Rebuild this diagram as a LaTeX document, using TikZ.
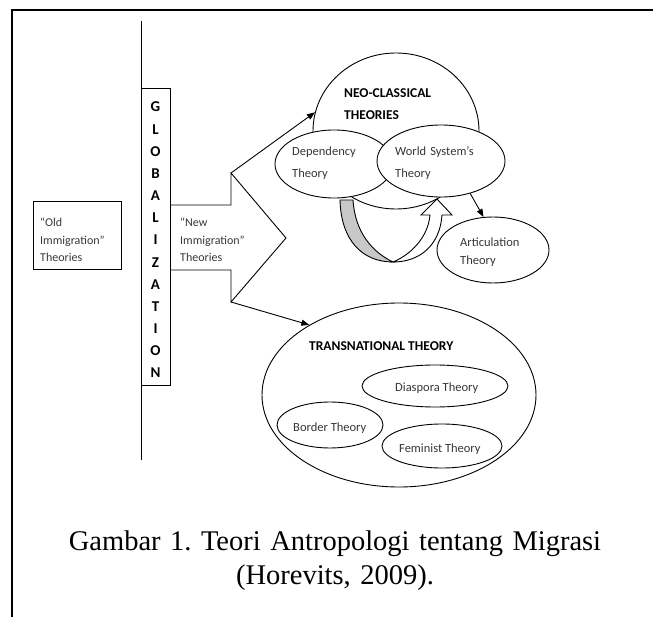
\documentclass[tikz,border=0pt]{standalone}
\usepackage{fontspec}
\setmainfont{Liberation Serif}
\setsansfont{Carlito}
\usetikzlibrary{shapes.geometric,arrows.meta,calc}
\definecolor{TxtGray}{RGB}{55,55,55}
\definecolor{RibFill}{RGB}{200,200,200}
\tikzset{
  nd_ell/.style={
    ellipse, draw=black, fill=white,
    line width=0.9pt, inner sep=0pt},
  nd_box/.style={
    rectangle, draw=black, line width=0.9pt, inner sep=0pt},
  nd_txt/.style={
    font=\sffamily\fontsize{12.5}{22}\selectfont,
    text=TxtGray, align=left, inner sep=0pt, anchor=base west},
  nd_ttl/.style={
    font=\sffamily\bfseries\fontsize{13.5}{22}\selectfont,
    text=black, align=left, inner sep=0pt, anchor=base west},
  nd_let/.style={
    font=\sffamily\bfseries\fontsize{15}{16}\selectfont, inner sep=0pt},
  arr/.style={-{Triangle[length=8pt,width=6pt]},line width=0.9pt},
  shp/.style={line width=0.9pt},
}

\begin{document}
\frenchspacing
\begin{tikzpicture}[x=1pt,y=-1pt]
\useasboundingbox (0,0) rectangle (653,617);

%% page frame and globalization axis
\draw[line width=2pt] (12,617) -- (12,10) -- (653,10);
\draw[line width=0.8pt] (141,21) -- (141,460);

%% left side
\node[nd_box, minimum width=88pt, minimum height=68pt] at (77,235) (OLD){};
\node[nd_txt, text width=80pt, font=\sffamily\fontsize{12}{17.5}\selectfont]
  at (40,227) (OLDt){“Old\\Immigration”\\Theories};
\node[nd_box, fill=white, minimum width=29pt, minimum height=297pt] at (155.5,236.5) (GLB){};
\foreach \l [count=\i] in {G,L,O,B,A,L,I,Z,A,T,I,O,N}
  {\node[nd_let] at (155.5,{107+(\i-1)*22.17}) (g\i){\l};}

%% big arrow
\coordinate (kinkT) at (231,173);
\coordinate (tipA)  at (286,238);
\coordinate (kinkB) at (231,302);
\draw[shp] (GLB.east |- 0,205) -- (231,205) -- (kinkT) -- (tipA)
  -- (kinkB) -- (231,270) -- (GLB.east |- 0,270);
\node[nd_txt, text width=80pt, font=\sffamily\fontsize{12}{17.5}\selectfont]
  at (180,227) (NEWt){“New\\Immigration”\\Theories};

%% neo-classical group
\node[nd_ell, fill=none, minimum width=166pt, minimum height=156pt] at (396,131) (neo){};
\node[nd_ell, minimum width=118pt, minimum height=68pt] at (334,164) (dep){};
\node[nd_ell, minimum width=128pt, minimum height=72pt] at (441,161) (wsys){};
\node[nd_ell, minimum width=112pt, minimum height=66pt] at (493,250) (art){};
\node[nd_ttl, text width=100pt] at (344,98) (NEOt){NEO-CLASSICAL\\THEORIES};
\node[nd_txt, text width=80pt] at (292,156) (DEPt){Dependency\\Theory};
\node[nd_txt, text width=90pt] at (395,156) (WSYt){World System’s\\Theory};
\node[nd_txt, text width=80pt, font=\sffamily\fontsize{12.5}{18}\selectfont]
  at (460,247) (ARTt){Articulation\\Theory};

%% curved ribbon arrow
\coordinate (rbL)  at (340,200);
\coordinate (rbLi) at (353,200);
\coordinate (rbB)  at (393,262);
\coordinate (rbRi) at (430,215);
\coordinate (rbR)  at (442,215);
\filldraw[shp, fill=RibFill] (rbL) .. controls (341,240) and (362,262) .. (rbB)
  .. controls (372,252) and (355,232) .. (rbLi) -- cycle;
\filldraw[shp, fill=white] (rbB) .. controls (410,255) and (428,238) .. (rbRi)
  -- (421,215) -- (437,199) -- (452,215) -- (rbR)
  .. controls (440,245) and (420,262) .. (rbB) -- cycle;

%% transnational group
\node[nd_ell, minimum width=274pt, minimum height=184pt] at (399,395) (trans){};
\node[nd_ell, minimum width=146pt, minimum height=42pt] at (435,386) (dia){};
\node[nd_ell, minimum width=106pt, minimum height=46pt] at (330,425) (bor){};
\node[nd_ell, minimum width=120pt, minimum height=44pt] at (442,446) (fem){};
\node[nd_ttl] at (309,351) (TRNt){TRANSNATIONAL THEORY};
\node[nd_txt] at (395,391) (DIAt){Diaspora Theory};
\node[nd_txt] at (293,431) (BORt){Border Theory};
\node[nd_txt] at (399,452) (FEMt){Feminist Theory};

%% arrows
\draw[arr] (kinkT) -- (neo.167);
\draw[arr] (kinkB) -- (trans.142);
\draw[arr] (wsys.-48) -- (art.106);

%% caption
\node[font=\fontsize{28.5}{34}\selectfont, text width=600pt, align=center,
  inner sep=0pt, anchor=base] at (335,550) (CAP)
  {Gambar 1. Teori Antropologi tentang Migrasi\\(Horevits, 2009).};

\end{tikzpicture}
\end{document}
